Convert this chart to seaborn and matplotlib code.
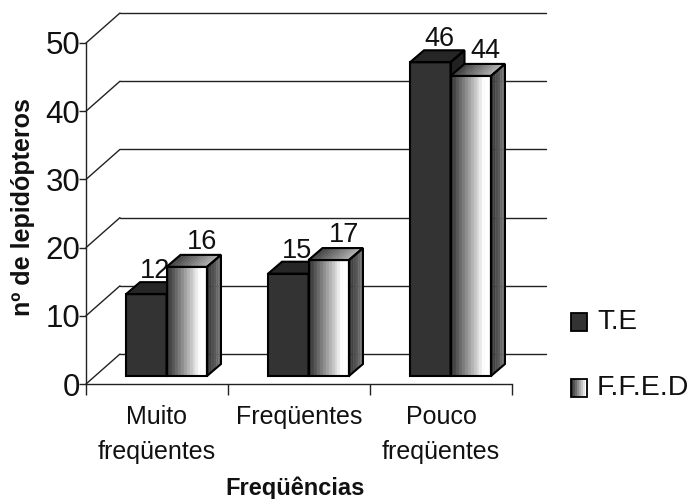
import numpy as np
import pandas as pd
import matplotlib
matplotlib.use("Agg")
import matplotlib.pyplot as plt
import seaborn as sns
from matplotlib.patches import Polygon, Rectangle
from matplotlib.transforms import Affine2D, IdentityTransform

categories = ["Muito\nfreqüentes", "Freqüentes", "Pouco\nfreqüentes"]
te_values = [12, 15, 46]
ffed_values = [16, 17, 44]
series_names = ["T.E", "F.F.E.D"]
y_ticks = [0, 10, 20, 30, 40, 50]

W, H = 691, 499
DARK = "#333333"

sns.set_theme(style="white")
plt.rcParams["font.family"] = ["Liberation Sans", "DejaVu Sans"]

df = pd.DataFrame({
    "cat": categories * 2,
    "val": te_values + ffed_values,
    "serie": [series_names[0]] * 3 + [series_names[1]] * 3,
})

fig = plt.figure(figsize=(W / 100, H / 100), dpi=100)
# front plane of the fake 3d box: x 86..512, y 43..384 (pixels from top)
ax = fig.add_axes([86 / W, 1 - 384 / H, 426 / W, 341 / H])
sns.barplot(data=df, x="cat", y="val", hue="serie", order=categories, hue_order=series_names,
            palette=[DARK, "#bbbbbb"], width=0.57, gap=0, legend=False, ax=ax)
ax.set_xlim(-0.5, 2.5)
ax.set_ylim(0, 50)
ax.patch.set_visible(False)
sns.despine(ax=ax)
for s in ["left", "bottom"]:
    ax.spines[s].set_color("#222222")
    ax.spines[s].set_linewidth(1.0)

ax.set_yticks(y_ticks)
ax.tick_params(axis="y", labelsize=22.5, length=5, width=1, color="#222222", pad=-1, left=True, labelcolor="#111111")
ax.set_xticks(range(3))
ax.set_xticklabels(categories)
ax.set_xticks([-0.5, 0.5, 1.5, 2.5], minor=True)
ax.tick_params(axis="x", which="major", length=0, labelsize=18, pad=15, labelcolor="#111111")
ax.tick_params(axis="x", which="minor", length=8, width=1, color="#222222", bottom=True)
for t in ax.get_xticklabels():
    t.set_linespacing(1.6)
    t.set_verticalalignment("top")

ax.set_xlabel("Freqüências", fontsize=17, fontweight="bold", color="#111111")
ax.xaxis.set_label_coords(0.49, -0.27)
ax.set_ylabel("nº de lepidópteros", fontsize=18, fontweight="bold", color="#111111")
ax.yaxis.set_label_coords(-0.12, 0.52)

# back wall lines and the diagonals joining them to the y axis
back = ax.get_yaxis_transform() + Affine2D().translate(34, 30)
for v in y_ticks:
    ax.plot([0, 1], [v, v], color="#222222", lw=1, transform=back, clip_on=False, zorder=0.5)
    p0 = ax.transData.transform((-0.5, v))
    ax.plot([p0[0], p0[0] + 34], [p0[1], p0[1] + 30], color="#222222", lw=1,
            transform=IdentityTransform(), clip_on=False, zorder=0.5)


def grad(t, start, stop):
    return str(np.clip(start + (stop - start) * t, 0, 1))


def strips(corners, start, stop, z, end=1.0, n=12):
    # corners: bottom-left, bottom-right, top-right, top-left in pixels
    bl, br, tr, tl = [np.array(c, float) for c in corners]
    for i in range(n):
        a, b = i / n, (i + 1) / n
        c = grad(min(a / end, 1), start, stop)
        ax.add_patch(Polygon([bl + (br - bl) * a, bl + (br - bl) * b, tl + (tr - tl) * b, tl + (tr - tl) * a],
                             closed=True, fc=c, ec=c, lw=0.3, transform=IdentityTransform(),
                             clip_on=False, zorder=z))
    ax.add_patch(Polygon([bl, br, tr, tl], closed=True, fc="none", ec="black", lw=1.5,
                         joinstyle="miter", transform=IdentityTransform(), clip_on=False, zorder=z + 0.01))


# bars stand in the middle of the box depth
OX, OY = 9.5, 8
DX, DY = 14, 12
label_off = [(9, 16), (15, 18)]
for s, cont in enumerate(ax.containers):
    for c, bar in enumerate(cont):
        bar.set_visible(False)
        x0, x1 = bar.get_x(), bar.get_x() + bar.get_width()
        val = int(bar.get_height())
        a = ax.transData.transform((x0, 0)) + (OX, OY)
        b = ax.transData.transform((x1, val)) + (OX, OY)
        z = 2 + c + s * 0.5
        front = [(a[0], a[1]), (b[0], a[1]), (b[0], b[1]), (a[0], b[1])]
        side = [(b[0], a[1]), (b[0] + DX, a[1] + DY), (b[0] + DX, b[1] + DY), (b[0], b[1])]
        top = [(a[0], b[1]), (b[0], b[1]), (b[0] + DX, b[1] + DY), (a[0] + DX, b[1] + DY)]
        if s == 0:
            strips(side, 0.13, 0.13, z, n=1)
            strips(top, 0.15, 0.15, z, n=1)
            strips(front, 0.2, 0.2, z, n=1)
        else:
            strips(side, 0.2, 0.5, z, n=6)
            strips(top, 0.25, 0.72, z)
            strips(front, 0.2, 1.0, z, end=0.8, n=14)
        ax.text((a[0] + b[0]) / 2 + label_off[s][0], b[1] + label_off[s][1], str(val),
                fontsize=19.5, ha="center", va="baseline", color="#111111",
                transform=IdentityTransform(), clip_on=False, zorder=z + 0.02)

# legend, drawn by hand because of the gradient swatch
fig.add_artist(Rectangle((571 / W, 1 - 331 / H), 16 / W, 18 / H, fc=DARK, ec="black", lw=1.3,
                         transform=fig.transFigure))
swatch = np.linspace(0.2, 1.0, 8)
for i, g in enumerate(swatch):
    fig.add_artist(Rectangle(((571 + 2 * i) / W, 1 - 397 / H), 2 / W, 18 / H, fc=str(g), ec="none",
                             transform=fig.transFigure))
fig.add_artist(Rectangle((571 / W, 1 - 397 / H), 16 / W, 18 / H, fc="none", ec="black", lw=1.3,
                         transform=fig.transFigure))
fig.text(597 / W, 1 - 329 / H, series_names[0], fontsize=20, va="baseline", color="#111111")
fig.text(597 / W, 1 - 395 / H, series_names[1], fontsize=20.5, va="baseline", color="#111111")

fig.savefig("out.png", dpi=100)
